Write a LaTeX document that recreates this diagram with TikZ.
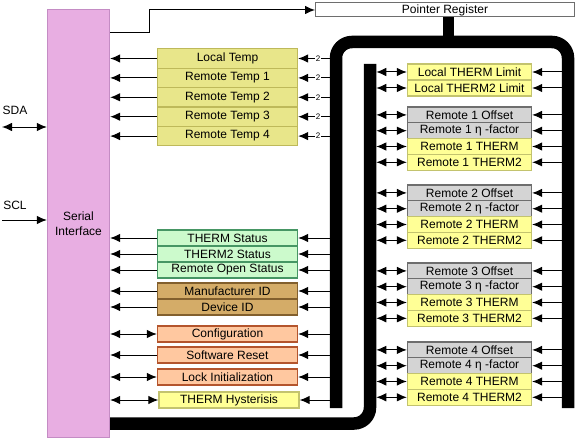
\documentclass[tikz,border=0pt]{standalone}
\usepackage{fontspec}
\setmainfont{Liberation Sans}
\usetikzlibrary{arrows.meta}
\definecolor{pinkF}{RGB}{232,174,226}
\definecolor{pinkD}{RGB}{196,140,196}
\definecolor{tempF}{RGB}{232,230,138}
\definecolor{tempD}{RGB}{190,185,90}
\definecolor{grnF}{RGB}{204,250,204}
\definecolor{grnD}{RGB}{70,150,100}
\definecolor{brnF}{RGB}{212,172,104}
\definecolor{brnD}{RGB}{130,95,45}
\definecolor{orgF}{RGB}{255,200,160}
\definecolor{orgD}{RGB}{180,85,45}
\definecolor{ylwF}{RGB}{255,255,150}
\definecolor{ylwD}{RGB}{195,195,110}
\definecolor{gryF}{RGB}{212,212,212}
\definecolor{gryD}{RGB}{110,110,110}
\newcommand\regfont{\fontsize{12}{14}\selectfont}
\newcommand\tinyfont{\fontsize{8}{9}\selectfont}
\begin{document}
\begin{tikzpicture}[x=1pt,y=-1pt,
  reg/.style={draw, line width=1.3pt, inner sep=0pt, font=\regfont},
  lbox/.style={reg, minimum width=140pt},
  rbox/.style={reg, minimum width=124pt, minimum height=15.8pt},
  temp/.style={lbox, fill=tempF, draw=tempD, minimum height=19.4pt},
  grn/.style={lbox, fill=grnF, draw=grnD, minimum height=16pt},
  brn/.style={lbox, fill=brnF, draw=brnD, minimum height=16pt},
  org/.style={lbox, fill=orgF, draw=orgD, minimum height=16pt},
  ylw/.style={fill=ylwF, draw=ylwD},
  gry/.style={fill=gryF, draw=gryD},
  arr/.style={line width=1pt, -{Latex[length=10pt,width=8.5pt]}},
  darr/.style={line width=1pt, {Latex[length=10pt,width=8.5pt]}-{Latex[length=10pt,width=8.5pt]}},
  bus/.style={line width=12.5pt, rounded corners=16pt},
  lbl/.style={font=\tinyfont, fill=white, inner sep=0.4pt},
  txt/.style={font=\regfont, inner sep=0pt}]
\useasboundingbox (0,0) rectangle (577,441);

% serial interface
\node[draw=pinkD, fill=pinkF, line width=1.3pt, minimum width=62pt, minimum height=428pt,
      inner sep=0pt, font=\regfont, align=center] (si) at (78.5,223.5) {Serial\\[1pt]Interface};

% pointer register
\node[draw=gryD, fill=white, line width=1pt, minimum width=259pt, minimum height=14pt,
      inner sep=0pt, font=\regfont] (pr) at (445,10) {Pointer Register};

% buses
\coordinate (busL) at (329.75,0);
\coordinate (busM) at (376.25,0);
\coordinate (busR) at (561.75,0);
\draw[line width=11pt] ([xshift=3.5pt]pr.south) -- ([xshift=3.5pt]pr.south |- 0,44);
\draw[bus] (336,408) -- (336,42) -- (568,42) -- (568,408);
\draw[bus] (si.east |- 0,423.5) -- (370,423.5) -- (370,64);

% SDA / SCL
\node[txt] (sdal) at (15,110) {SDA};
\node[txt] (scll) at (15,205) {SCL};
\coordinate (sda) at (2,127);
\coordinate (scl) at (2,220);
\draw[darr] (sda) -- (sda -| si.west);
\draw[arr] (scl) -- (scl -| si.west);

% link to pointer register
\draw[arr] (si.east |- 0,33) -- (149,33) -- (149,10) -- (pr.west);

% temperature registers
\node[temp] (t0) at (227.5,58.5) {Local Temp};
\node[temp] (t1) at (227.5,77.9) {Remote Temp 1};
\node[temp] (t2) at (227.5,97.3) {Remote Temp 2};
\node[temp] (t3) at (227.5,116.7) {Remote Temp 3};
\node[temp] (t4) at (227.5,136.1) {Remote Temp 4};
\foreach \k in {t0,t1,t2,t3,t4}{
  \draw[arr] (\k.west) -- (\k.west -| si.east);
  \draw[arr] (\k.east -| busL) -- node[lbl,pos=0.37]{2} (\k.east);
}

% status / id / control
\node[grn] (s1) at (227.5,238) {THERM Status};
\node[grn] (s2) at (227.5,254) {THERM2 Status};
\node[grn] (s3) at (227.5,270) {Remote Open Status};
\node[brn] (m1) at (227.5,291) {Manufacturer ID};
\node[brn] (m2) at (227.5,307) {Device ID};
\node[org] (c1) at (227.5,334) {Configuration};
\node[org] (c2) at (227.5,355) {Software Reset};
\node[org] (c3) at (227.5,377) {Lock Initialization};
\node[lbox, ylw, minimum height=16pt] (hy) at (229,400) {THERM Hysterisis};
\foreach \k in {s1,s2,s3,m1,m2,c2}{
  \draw[arr] (\k.west) -- (\k.west -| si.east);
}
\foreach \k in {c1,c3,hy}{
  \draw[darr] (\k.west -| si.east) -- (\k.west);
}
\foreach \k in {s1,s2,s3,m1,m2,c1,c2,c3,hy}{
  \draw[arr] (\k.east -| busL) -- (\k.east);
}

% right column
\node[rbox, ylw] (l1) at (469.5,72) {Local THERM Limit};
\node[rbox, ylw] (l2) at (469.5,88) {Local THERM2 Limit};
\foreach \k in {l1,l2}{
  \draw[darr] (\k.west -| busM) -- (\k.west);
  \draw[arr] (\k.east -| busR) -- (\k.east);
}
\foreach \n/\y in {1/107,2/185,3/263,4/342}{
  \node[rbox, gry] (r\n-off) at (469.5,\y+7.9) {Remote \n\ Offset};
  \node[rbox, gry] (r\n-eta) at (469.5,\y+23.7) {Remote \n\ η -factor};
  \node[rbox, ylw] (r\n-th) at (469.5,\y+39.5) {Remote \n\ THERM};
  \node[rbox, ylw] (r\n-thb) at (469.5,\y+55.3) {Remote \n\ THERM2};
  \foreach \k in {off,eta,th,thb}{
    \draw[darr] (r\n-\k.west -| busM) -- (r\n-\k.west);
    \draw[arr] (r\n-\k.east -| busR) -- (r\n-\k.east);
  }
}
\end{tikzpicture}
\end{document}
